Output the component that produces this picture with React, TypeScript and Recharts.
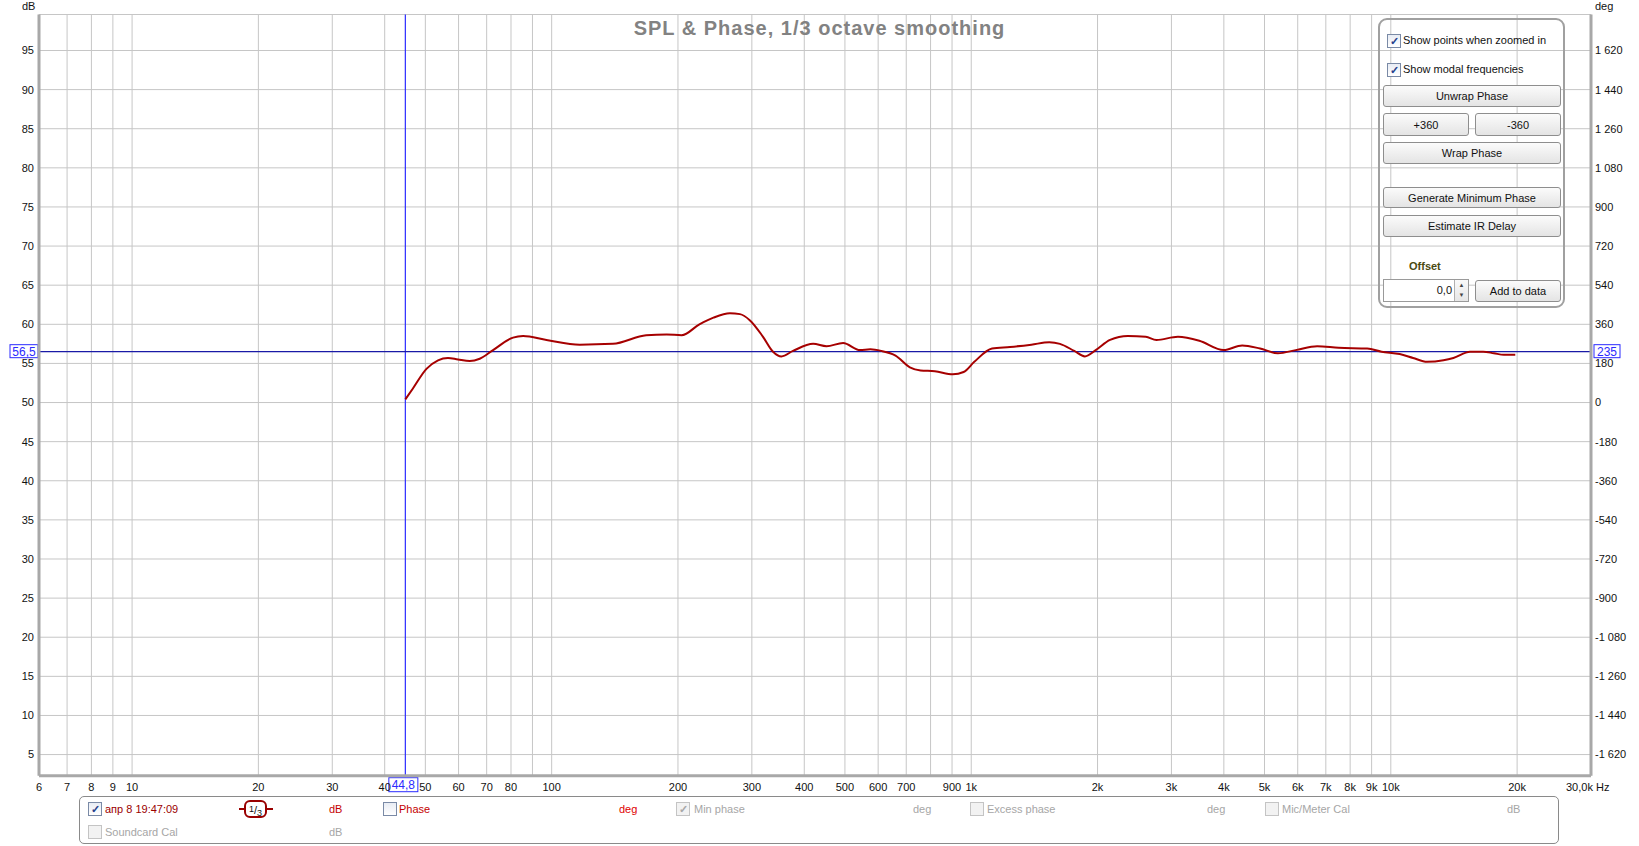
import { CartesianGrid, Line, LineChart, ReferenceLine, XAxis, YAxis } from 'recharts';

// SPL curve, 1/3 octave smoothed (Hz / dB)
const FREQS = [
  44.8, 46.7, 50.3, 53.6, 56.6, 59.8, 63.8, 67.4, 72.5, 80.9, 85.5, 97.2, 116.7, 140, 168, 188, 204,
  225, 243, 266, 281, 297, 319, 337, 353, 376, 420, 452, 495, 543, 575, 610, 660, 714, 757, 819, 904,
  959, 1017, 1121, 1237, 1391, 1535, 1627, 1760, 1866, 1980, 2142, 2362, 2606, 2763, 3109, 3496, 3996,
  4424, 4880, 5383, 5935, 6676, 7510, 8785, 9504, 10500, 11300, 12200, 13350, 14100, 15450, 16600,
  17600, 18600, 19800,
];
const SPL = [
  50.4, 51.8, 54.3, 55.4, 55.7, 55.5, 55.3, 55.6, 56.7, 58.3, 58.5, 58.0, 57.4, 57.5, 58.6, 58.7, 58.6,
  60.0, 60.85, 61.4, 61.3, 60.5, 58.4, 56.5, 55.9, 56.6, 57.5, 57.2, 57.6, 56.7, 56.8, 56.6, 56.0, 54.5,
  54.1, 54.0, 53.6, 53.9, 55.2, 56.9, 57.1, 57.4, 57.7, 57.5, 56.6, 55.9, 56.7, 58.0, 58.5, 58.4, 58.0,
  58.4, 57.9, 56.7, 57.3, 56.9, 56.3, 56.7, 57.2, 57.0, 56.9, 56.5, 56.2, 55.7, 55.2, 55.4, 55.7, 56.5,
  56.5, 56.3, 56.1, 56.1,
];

const X_TICKS = [
  6, 7, 8, 9, 10, 20, 30, 40, 50, 60, 70, 80, 90, 100, 200, 300, 400, 500, 600, 700, 800, 900, 1000,
  2000, 3000, 4000, 5000, 6000, 7000, 8000, 9000, 10000, 20000, 30000,
];
const X_UNLABELED = [90, 800];
const DB_TICKS = [5, 10, 15, 20, 25, 30, 35, 40, 45, 50, 55, 60, 65, 70, 75, 80, 85, 90, 95];
const DEG_TICKS = [
  -1620, -1440, -1260, -1080, -900, -720, -540, -360, -180, 0, 180, 360, 540, 720, 900, 1080, 1260,
  1440, 1620,
];
const DB_DOMAIN = [2.3, 99.6];
const DEG_DOMAIN = DB_DOMAIN.map((v) => (v - 50) * 36);

const CURSOR_HZ = 44.8;
const CURSOR_DB = 56.5;
const CURSOR_DEG = 235;

const data = FREQS.map((f, i) => ({ f, spl: SPL[i] }));

const FONT = 'Arial, "Liberation Sans", sans-serif';
const FRAME = '#a8a8a8';
const CURSOR = '#2b2bff';

const fmtHz = (v: number) => (v >= 1000 ? `${v / 1000}k` : `${v}`);
const fmtDeg = (v: number) => {
  const s = Math.abs(v).toString();
  const body = s.length > 3 ? `${s.slice(0, -3)} ${s.slice(-3)}` : s;
  return v < 0 ? `-${body}` : body;
};
const comma = (v: number) => v.toFixed(1).replace('.', ',');

function FreqTick({ x, y, payload }: any) {
  const v = payload.value;
  if (X_UNLABELED.includes(v)) return <g />;
  if (v === 30000) {
    return (
      <text x={x - 25} y={y} dy="0.71em" textAnchor="start" fontSize={11} fill="#111" fontFamily={FONT}>
        30,0k Hz
      </text>
    );
  }
  return (
    <text x={x} y={y} dy="0.71em" textAnchor="middle" fontSize={11} fill="#111" fontFamily={FONT}>
      {fmtHz(v)}
    </text>
  );
}

function HCursorLabel({ viewBox }: any) {
  const { x, y, width } = viewBox;
  return (
    <g fontFamily={FONT} fontSize={12}>
      <rect x={x - 29} y={y - 7} width={28} height={13} fill="#fff" stroke={CURSOR} />
      <text x={x - 15} y={y + 4} textAnchor="middle" fill={CURSOR}>
        {comma(CURSOR_DB)}
      </text>
      <rect x={x + width + 3} y={y - 7} width={26} height={13} fill="#fff" stroke={CURSOR} />
      <text x={x + width + 16} y={y + 4} textAnchor="middle" fill={CURSOR}>
        {CURSOR_DEG}
      </text>
    </g>
  );
}

function VCursorLabel({ viewBox }: any) {
  const { x, y, height } = viewBox;
  const top = y + height + 2;
  return (
    <g fontFamily={FONT} fontSize={12}>
      <rect x={x - 16.5} y={top} width={29} height={14} fill="#fff" stroke={CURSOR} />
      <text x={x - 2} y={top + 11} textAnchor="middle" fill={CURSOR}>
        {comma(CURSOR_HZ)}
      </text>
    </g>
  );
}

function Check({ left, top, checked, disabled }: { left: number; top: number; checked?: boolean; disabled?: boolean }) {
  return (
    <div
      style={{
        position: 'absolute',
        left,
        top,
        width: 12,
        height: 12,
        border: `1px solid ${disabled ? '#c4c4c4' : '#7a8aa6'}`,
        background: disabled ? '#f2f2f2' : 'linear-gradient(#e8ecf4, #ffffff)',
        fontSize: 11,
        lineHeight: '12px',
        textAlign: 'center',
        color: disabled ? '#a8a8a8' : '#26408b',
        fontWeight: 'bold',
      }}
    >
      {checked ? '✓' : ''}
    </div>
  );
}

function Btn({ label, left, top, width, height = 22 }: { label: string; left: number; top: number; width: number; height?: number }) {
  return (
    <div
      style={{
        position: 'absolute',
        left,
        top,
        width,
        height,
        boxSizing: 'border-box',
        border: '1px solid #8e8e8e',
        borderRadius: 3,
        background: 'linear-gradient(#fbfbfb, #e4e4e4)',
        display: 'flex',
        alignItems: 'center',
        justifyContent: 'center',
        fontSize: 11,
        color: '#111',
      }}
    >
      {label}
    </div>
  );
}

function Txt({ left, cy, color, children, bold }: any) {
  return (
    <div
      style={{
        position: 'absolute',
        left,
        top: cy - 7,
        height: 14,
        lineHeight: '14px',
        fontSize: 11,
        color,
        whiteSpace: 'nowrap',
        fontWeight: bold ? 'bold' : 'normal',
      }}
    >
      {children}
    </div>
  );
}

function ControlPanel() {
  return (
    <>
      <div
        style={{
          position: 'absolute',
          left: 1378,
          top: 18,
          width: 187,
          height: 290,
          boxSizing: 'border-box',
          border: '2px solid #a0a0a0',
          borderRadius: 9,
        }}
      />
      <Check left={1387} top={34} checked />
      <Txt left={1403} cy={40} color="#111">Show points when zoomed in</Txt>
      <Check left={1387} top={63} checked />
      <Txt left={1403} cy={69} color="#111">Show modal frequencies</Txt>
      <Btn label="Unwrap Phase" left={1383} top={85} width={178} />
      <Btn label="+360" left={1383} top={113} width={86} height={23} />
      <Btn label="-360" left={1475} top={113} width={86} height={23} />
      <Btn label="Wrap Phase" left={1383} top={142} width={178} />
      <Btn label="Generate Minimum Phase" left={1383} top={187} width={178} height={21} />
      <Btn label="Estimate IR Delay" left={1383} top={215} width={178} />
      <Txt left={1409} cy={266} color="#4a4a12" bold>Offset</Txt>
      <div
        style={{
          position: 'absolute',
          left: 1383,
          top: 279,
          width: 86,
          height: 23,
          boxSizing: 'border-box',
          border: '1px solid #9a9a9a',
          background: '#fff',
        }}
      >
        <div style={{ position: 'absolute', right: 16, top: 4, fontSize: 11, color: '#111' }}>0,0</div>
        <div
          style={{
            position: 'absolute',
            right: 0,
            top: 0,
            width: 13,
            height: 21,
            borderLeft: '1px solid #b0b0b0',
            background: 'linear-gradient(#fafafa, #e6e6e6)',
            fontSize: 6,
            lineHeight: '10px',
            textAlign: 'center',
            color: '#444',
          }}
        >
          ▲<br />▼
        </div>
      </div>
      <Btn label="Add to data" left={1475} top={280} width={86} />
    </>
  );
}

function LegendBox() {
  const r1 = 809;
  const r2 = 832;
  const red = '#c40000';
  const gray = '#a6a6a6';
  return (
    <>
      <div
        style={{
          position: 'absolute',
          left: 79,
          top: 796,
          width: 1480,
          height: 48,
          boxSizing: 'border-box',
          border: '1px solid #8a8a8a',
          borderRadius: 5,
        }}
      />
      <Check left={88} top={r1 - 7} checked />
      <Txt left={105} cy={r1} color="#9b0000">апр 8 19:47:09</Txt>
      <div style={{ position: 'absolute', left: 239, top: r1 - 1, width: 34, height: 2, background: '#990000' }} />
      <div
        style={{
          position: 'absolute',
          left: 244,
          top: r1 - 9,
          width: 23,
          height: 18,
          boxSizing: 'border-box',
          border: '2px solid #990000',
          borderRadius: 6,
          background: '#fff',
          fontSize: 11,
          lineHeight: '14px',
          textAlign: 'center',
          color: '#111',
        }}
      >
        <span style={{ fontSize: 9, verticalAlign: 2 }}>1</span>/<span style={{ fontSize: 9, verticalAlign: -2 }}>3</span>
      </div>
      <Txt left={329} cy={r1} color={red}>dB</Txt>
      <Check left={383} top={r1 - 7} />
      <Txt left={399} cy={r1} color={red}>Phase</Txt>
      <Txt left={619} cy={r1} color="#e00000">deg</Txt>
      <Check left={676} top={r1 - 7} checked disabled />
      <Txt left={694} cy={r1} color={gray}>Min phase</Txt>
      <Txt left={913} cy={r1} color={gray}>deg</Txt>
      <Check left={970} top={r1 - 7} disabled />
      <Txt left={987} cy={r1} color={gray}>Excess phase</Txt>
      <Txt left={1207} cy={r1} color={gray}>deg</Txt>
      <Check left={1265} top={r1 - 7} disabled />
      <Txt left={1282} cy={r1} color={gray}>Mic/Meter Cal</Txt>
      <Txt left={1507} cy={r1} color={gray}>dB</Txt>
      <Check left={88} top={r2 - 7} disabled />
      <Txt left={105} cy={r2} color={gray}>Soundcard Cal</Txt>
      <Txt left={329} cy={r2} color={gray}>dB</Txt>
    </>
  );
}

export default function App() {
  return (
    <div
      style={{
        position: 'absolute',
        left: 0,
        top: 0,
        width: 1639,
        height: 846,
        background: '#fff',
        fontFamily: FONT,
        overflow: 'hidden',
      }}
    >
      <LineChart width={1639} height={846} data={data} margin={{ top: 14.5, right: 0, bottom: 0, left: 0 }}>
        <CartesianGrid stroke="#c6c6c6" strokeWidth={1} />
        <XAxis
          dataKey="f"
          type="number"
          scale="log"
          domain={[6, 30000]}
          allowDataOverflow
          ticks={X_TICKS}
          interval={0}
          height={70.3}
          tickLine={false}
          tickSize={0}
          tickMargin={7}
          tick={<FreqTick />}
          axisLine={{ stroke: FRAME, strokeWidth: 3 }}
        />
        <XAxis
          xAxisId="top"
          orientation="top"
          type="number"
          scale="log"
          domain={[6, 30000]}
          allowDataOverflow
          height={0}
          tick={false}
          tickLine={false}
          axisLine={{ stroke: FRAME, strokeWidth: 3 }}
        />
        <YAxis
          type="number"
          domain={DB_DOMAIN}
          allowDataOverflow
          ticks={DB_TICKS}
          interval={0}
          width={39}
          tickLine={false}
          tickSize={0}
          tickMargin={5}
          tick={{ fontSize: 11, fill: '#111', fontFamily: FONT }}
          axisLine={{ stroke: FRAME, strokeWidth: 3 }}
        />
        <YAxis
          yAxisId="deg"
          orientation="right"
          type="number"
          domain={DEG_DOMAIN}
          allowDataOverflow
          ticks={DEG_TICKS}
          interval={0}
          width={48}
          tickLine={false}
          tickSize={0}
          tickMargin={4}
          tickFormatter={fmtDeg}
          tick={{ fontSize: 11, fill: '#111', fontFamily: FONT, textAnchor: 'start' }}
          axisLine={{ stroke: FRAME, strokeWidth: 3 }}
        />
        <ReferenceLine x={CURSOR_HZ} stroke={CURSOR} strokeWidth={1.2} label={<VCursorLabel />} />
        <ReferenceLine y={CURSOR_DB} stroke="#1a1aa6" strokeWidth={1.2} label={<HCursorLabel />} />
        <Line
          type="monotone"
          dataKey="spl"
          stroke="#a60000"
          strokeWidth={2}
          dot={false}
          isAnimationActive={false}
        />
      </LineChart>

      <div
        style={{
          position: 'absolute',
          left: 0,
          top: 18,
          width: 1639,
          textAlign: 'center',
          fontSize: 20,
          lineHeight: '20px',
          fontWeight: 'bold',
          letterSpacing: 1,
          color: '#828282',
        }}
      >
        SPL &amp; Phase, 1/3 octave smoothing
      </div>
      <div style={{ position: 'absolute', left: 22, top: 0, fontSize: 11, color: '#111' }}>dB</div>
      <div style={{ position: 'absolute', left: 1595, top: 0, fontSize: 11, color: '#111' }}>deg</div>

      <ControlPanel />
      <LegendBox />
    </div>
  );
}
